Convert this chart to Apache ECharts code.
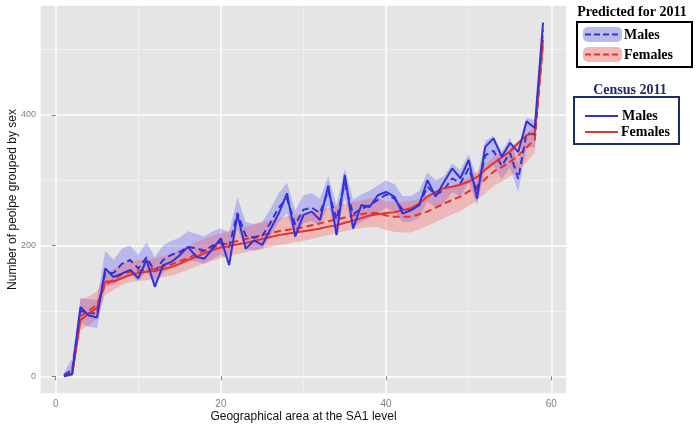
<!DOCTYPE html>
<html>
<head>
<meta charset="utf-8">
<script src="https://cdn.jsdelivr.net/npm/echarts@6/dist/echarts.min.js"></script>
<style>
  html, body { margin: 0; padding: 0; background: #fff; }
  #chart { width: 696px; height: 425px; }
</style>
</head>
<body>
<div id="chart"></div>
<script>
// geographical areas (SA1 index)
const areas = [1,2,3,4,5,6,7,8,9,10,11,12,13,14,15,16,17,18,19,20,21,22,23,24,25,26,27,28,29,30,
  31,32,33,34,35,36,37,38,39,40,41,42,43,44,45,46,47,48,49,50,51,52,53,54,55,56,57,58,59]

// Census 2011
const censusMales = [0,4,106,93,90,165,152,157,163,150,178,137,170,175,185,198,183,180,195,211,
  170,247,195,208,201,225,249,280,214,247,252,239,292,216,308,226,262,259,277,282,
  275,249,254,262,300,275,297,318,303,331,272,351,364,336,357,343,390,380,541]
const censusFemales = [0,3,86,96,105,145,145,150,155,158,160,161,164,167,172,178,183,188,193,197,
  199,202,204,207,210,213,216,218,220,222,224,226,229,231,235,238,242,246,248,250,
  251,254,257,264,275,282,288,290,293,298,305,316,326,335,344,357,369,372,515]

// Predicted for 2011 (dashed) with ribbons
const predMales = [2,10,100,97,96,158,158,172,178,165,182,160,178,186,190,198,196,192,200,205,
  198,250,215,212,215,235,258,272,232,255,258,250,284,240,295,248,256,262,270,278,
  272,255,255,262,290,278,285,303,295,318,282,338,345,322,342,302,372,370,530]
const predMalesLow = [0,0,82,76,74,138,140,150,156,146,160,140,158,166,170,176,176,172,180,186,
  178,226,195,192,195,214,236,250,212,234,238,230,262,220,272,228,236,242,250,258,
  252,236,236,243,268,258,265,282,275,297,262,317,323,302,320,282,350,350,518]
const predMalesHigh = [5,28,120,118,117,192,178,195,200,186,205,182,200,207,212,222,218,214,222,226,
  220,274,236,233,236,256,280,296,254,277,280,272,306,262,318,270,278,284,292,300,
  294,276,276,284,312,300,306,325,316,340,304,360,368,344,365,324,395,392,545]

const predFemales = [1,5,92,100,110,140,148,156,160,162,163,165,168,171,176,181,187,192,197,201,
  204,207,210,213,216,219,222,224,226,228,231,234,237,240,243,246,248,250,250,246,
  244,244,244,248,252,258,264,270,275,283,291,302,313,320,328,338,350,362,510]
const predFemalesLow = [0,0,70,78,88,125,132,140,144,146,147,149,152,154,158,163,168,173,177,181,
  184,187,190,193,195,198,201,203,205,207,210,213,216,219,222,225,227,228,228,224,
  221,220,220,225,230,236,242,248,253,261,269,280,291,298,306,316,328,342,495]
const predFemalesHigh = [3,15,118,122,130,157,164,172,176,178,179,181,184,188,193,199,205,210,215,219,
  223,226,229,232,236,239,242,245,247,249,252,255,258,261,264,267,269,272,272,268,
  267,267,268,272,276,281,287,292,297,305,313,324,335,342,350,360,372,382,525]

const BLUE = '#3232d6'
const RED = '#e6332a'
const TXT = '#7f7f7f'
const NAVY = '#1f2a6b'

const pairs = ys => areas.map((x, i) => [x, ys[i]])

// ribbon drawn as one polygon through the axis scales
const ribbon = (low, high, fill) => ({
  type: 'custom',
  silent: true,
  data: areas.map((x, i) => [x, low[i], high[i]]),
  encode: { x: 0, y: [1, 2] },
  renderItem: (params, api) => {
    if (params.dataIndex !== 0) return
    const pts = []
    for (let i = 0; i < areas.length; i++) pts.push(api.coord([areas[i], high[i]]))
    for (let i = areas.length - 1; i >= 0; i--) pts.push(api.coord([areas[i], low[i]]))
    return { type: 'polygon', shape: { points: pts }, style: { fill: fill } }
  }
})

const line = (ys, color, dashed) => ({
  type: 'line',
  data: pairs(ys),
  showSymbol: false,
  silent: true,
  lineStyle: { color: color, width: 2, type: dashed ? [7, 4] : 'solid' }
})

const chart = echarts.init(document.getElementById('chart'), null, { renderer: 'canvas' })

const serif = '"Liberation Serif", "DejaVu Serif", serif'

chart.setOption({
  animation: false,
  textStyle: { fontFamily: '"Liberation Sans", Arial, sans-serif' },
  grid: {
    left: 40, right: 129, top: 5, bottom: 31,
    outerBoundsMode: 'none', containLabel: false,
    show: true, backgroundColor: '#e5e5e5', borderWidth: 0
  },
  xAxis: {
    type: 'value', min: -1.9, max: 61.9, splitNumber: 3,
    axisLine: { show: false },
    axisTick: { show: true, length: 4, lineStyle: { color: TXT } },
    axisLabel: { color: TXT, fontSize: 10, margin: 5, showMinLabel: false, showMaxLabel: false },
    splitLine: { lineStyle: { color: '#ffffff', width: 1.5 } },
    minorTick: { show: false, splitNumber: 2 },
    minorSplitLine: { show: true, lineStyle: { color: '#f2f2f2', width: 0.8 } },
    name: 'Geographical area at the SA1 level',
    nameLocation: 'middle', nameGap: 17, nameMoveOverlap: false,
    nameTextStyle: { color: '#111', fontSize: 12 }
  },
  yAxis: {
    type: 'value', min: -27, max: 568, splitNumber: 3,
    axisLine: { show: false },
    axisTick: { show: true, length: 4, lineStyle: { color: TXT } },
    axisLabel: { color: TXT, fontSize: 9, margin: 4, showMinLabel: false, showMaxLabel: false },
    splitLine: { lineStyle: { color: '#ffffff', width: 1.5 } },
    minorTick: { show: false, splitNumber: 2 },
    minorSplitLine: { show: true, lineStyle: { color: '#f2f2f2', width: 0.8 } },
    name: 'Number of peolpe grouped by sex',
    nameLocation: 'middle', nameGap: 21, nameRotate: 90, nameMoveOverlap: false,
    nameTextStyle: { color: '#111', fontSize: 12 }
  },
  series: [
    ribbon(predMalesLow, predMalesHigh, 'rgba(80,80,255,0.30)'),
    ribbon(predFemalesLow, predFemalesHigh, 'rgba(255,80,80,0.30)'),
    line(predFemales, RED, true),
    line(predMales, BLUE, true),
    line(censusFemales, RED, false),
    line(censusMales, BLUE, false)
  ],
  // two hand-made legend boxes
  graphic: [
    { type: 'text', x: 632, y: 12, style: { text: 'Predicted for 2011', font: 'bold 14px ' + serif, fill: '#000', align: 'center', verticalAlign: 'middle' } },
    { type: 'rect', shape: { x: 577, y: 22, width: 115, height: 45 }, style: { fill: 'none', stroke: '#000', lineWidth: 2 } },
    { type: 'rect', shape: { x: 583, y: 27, width: 39, height: 15, r: 5 }, style: { fill: '#b9bbe9' } },
    { type: 'line', shape: { x1: 585, y1: 34.5, x2: 621, y2: 34.5 }, style: { stroke: BLUE, lineWidth: 2, lineDash: [6, 3] } },
    { type: 'text', x: 624, y: 35, style: { text: 'Males', font: 'bold 14px ' + serif, fill: '#000', verticalAlign: 'middle' } },
    { type: 'rect', shape: { x: 583, y: 47, width: 39, height: 15, r: 5 }, style: { fill: '#f2b8b8' } },
    { type: 'line', shape: { x1: 585, y1: 54.5, x2: 621, y2: 54.5 }, style: { stroke: RED, lineWidth: 2, lineDash: [6, 3] } },
    { type: 'text', x: 624, y: 55, style: { text: 'Females', font: 'bold 14px ' + serif, fill: '#000', verticalAlign: 'middle' } },

    { type: 'text', x: 630, y: 90, style: { text: 'Census 2011', font: 'bold 14px ' + serif, fill: NAVY, align: 'center', verticalAlign: 'middle' } },
    { type: 'rect', shape: { x: 574, y: 97, width: 105, height: 47 }, style: { fill: 'none', stroke: NAVY, lineWidth: 2 } },
    { type: 'line', shape: { x1: 585, y1: 116, x2: 618, y2: 116 }, style: { stroke: BLUE, lineWidth: 2 } },
    { type: 'text', x: 622, y: 116, style: { text: 'Males', font: 'bold 14px ' + serif, fill: '#000', verticalAlign: 'middle' } },
    { type: 'line', shape: { x1: 585, y1: 132, x2: 618, y2: 132 }, style: { stroke: RED, lineWidth: 2 } },
    { type: 'text', x: 621, y: 132, style: { text: 'Females', font: 'bold 14px ' + serif, fill: '#000', verticalAlign: 'middle' } }
  ]
})
</script>
</body>
</html>
